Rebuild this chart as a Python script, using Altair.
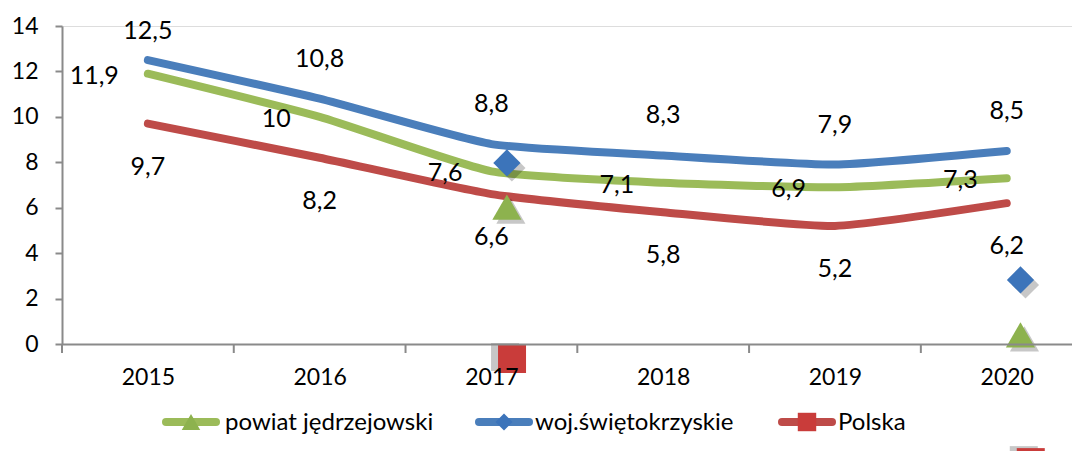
import altair as alt
import pandas as pd

years = [2015, 2016, 2017, 2018, 2019, 2020]
series_names = ["powiat jędrzejowski", "woj.świętokrzyskie", "Polska"]
powiat = [11.9, 10.0, 7.6, 7.1, 6.9, 7.3]
woj = [12.5, 10.8, 8.8, 8.3, 7.9, 8.5]
polska = [9.7, 8.2, 6.6, 5.8, 5.2, 6.2]

# stray marker artefacts visible in the reference picture
stray_x = [2017.09, 2017.09, 2017.12, 2020.08, 2020.08, 2020.14]
stray_y = [7.97, 6.03, -0.66, 2.82, 0.40, -5.2]
stray_series = ["woj.świętokrzyskie", "powiat jędrzejowski", "Polska",
                "woj.świętokrzyskie", "powiat jędrzejowski", "Polska"]

x_boundaries = [2014.5, 2015.5, 2016.5, 2017.5, 2018.5, 2019.5]
y_ticks = [0, 2, 4, 6, 8, 10, 12, 14]

colors = ["#9BBB59", "#4A7EBB", "#BE4B48"]
marker_colors = {"powiat jędrzejowski": "#8DB24E", "woj.świętokrzyskie": "#3C74BA", "Polska": "#C93C3A"}
marker_shapes = {"powiat jędrzejowski": "triangle-up", "woj.świętokrzyskie": "diamond", "Polska": "square"}
marker_sizes = {"powiat jędrzejowski": 850, "woj.świętokrzyskie": 740, "Polska": 784}
legend_marker_sizes = {"powiat jędrzejowski": 340, "woj.świętokrzyskie": 290, "Polska": 340}
shadow_off = {"powiat jędrzejowski": (4, 4), "woj.świętokrzyskie": (5, 5), "Polska": (-7, -2)}

# legend layout (pixels inside the plot area): symbol centre and text start per entry
legend_sym_x = [129, 442, 745]
legend_txt_x = [163, 473, 776]
LEG_Y = 396

rows = []
for name, vals in zip(series_names, [powiat, woj, polska]):
    for yr, v in zip(years, vals):
        rows.append({"year": yr, "v": v, "series": name,
                     "label": f"{v:g}".replace(".", ",")})
df = pd.DataFrame(rows)
stray = pd.DataFrame({"sx": stray_x, "sy": stray_y, "series": stray_series})
bounds = pd.DataFrame({"b": x_boundaries})

FONT = "Lato"
GRAY = "#8A8A8A"
x_scale = alt.Scale(domain=[2014.5, 2020.38], nice=False, zero=False)
y_scale = alt.Scale(domain=[0, 14], nice=False, zero=False)
x_axis = alt.Axis(values=years, format="d", ticks=False, tickSize=0, grid=False,
                  labelFontSize=23, labelPadding=22, domainColor=GRAY, domainWidth=2,
                  title=None, labelFont=FONT, labelColor="black", labelFlush=False, zindex=1)
y_axis = alt.Axis(values=y_ticks, grid=False, tickSize=7, tickColor=GRAY, tickWidth=2,
                  domainColor=GRAY, domainWidth=2, labelFontSize=23, labelPadding=17,
                  title=None, labelFont=FONT, labelColor="black")


def X(f):
    return alt.X(f, type="quantitative", scale=x_scale, axis=x_axis)


def Y(f):
    return alt.Y(f, type="quantitative", scale=y_scale, axis=y_axis)


base = alt.Chart(df)

lines = base.mark_line(strokeWidth=8, strokeCap="round", interpolate="cardinal", tension=0.5).encode(
    x=X("year"), y=Y("v"),
    color=alt.Color("series:N", scale=alt.Scale(domain=series_names, range=colors), legend=None),
)

ticks = alt.Chart(bounds).mark_rule(color=GRAY, strokeWidth=2).encode(
    x=X("b"), y=alt.value(318), y2=alt.value(327))

stray_layers = []
for s in series_names:
    dx, dy = shadow_off[s]
    sub = alt.Chart(stray).transform_filter(alt.datum.series == s)
    stray_layers.append(sub.mark_point(filled=True, shape=marker_shapes[s], size=marker_sizes[s],
                                       color="#000000", opacity=0.22, xOffset=dx, yOffset=dy)
                        .encode(x=X("sx"), y=Y("sy")))
    stray_layers.append(sub.mark_point(filled=True, shape=marker_shapes[s], size=marker_sizes[s],
                                       color=marker_colors[s], opacity=1)
                        .encode(x=X("sx"), y=Y("sy")))

LBL = 25
lbl_green = base.transform_filter(alt.datum.series == series_names[0]).mark_text(
    align="right", baseline="middle", dx=-29, dy=2, fontSize=LBL, font=FONT, color="black"
).encode(x=X("year"), y=Y("v"), text="label:N")
lbl_blue = base.transform_filter(alt.datum.series == series_names[1]).transform_calculate(
    ly="min(datum.v, 12)"
).mark_text(align="center", baseline="middle", dy=-40, fontSize=LBL, font=FONT, color="black"
            ).encode(x=X("year"), y=Y("ly"), text="label:N")
lbl_red = base.transform_filter(alt.datum.series == series_names[2]).mark_text(
    align="center", baseline="middle", dy=43, fontSize=LBL, font=FONT, color="black"
).encode(x=X("year"), y=Y("v"), text="label:N")

# legend: line swatch with marker, then the series name
legend_layers = []
for s, col, sx, tx in zip(series_names, colors, legend_sym_x, legend_txt_x):
    one = alt.Chart(pd.DataFrame({"series": [s]}))
    legend_layers.append(one.mark_rule(color=col, strokeWidth=8, strokeCap="round").encode(
        x=alt.value(sx - 25), x2=alt.value(sx + 25), y=alt.value(LEG_Y)))
    legend_layers.append(one.mark_point(filled=True, shape=marker_shapes[s], opacity=1,
                                        size=legend_marker_sizes[s], color=marker_colors[s]).encode(
        x=alt.value(sx), y=alt.value(LEG_Y)))
    legend_layers.append(one.mark_text(align="left", baseline="middle", fontSize=24, font=FONT,
                                       color="black").encode(
        x=alt.value(tx), y=alt.value(LEG_Y + 1), text="series:N"))

chart = alt.layer(lines, ticks, *stray_layers, lbl_green, lbl_blue, lbl_red, *legend_layers).properties(
    width=1010, height=318,
    padding={"left": 54, "top": 18, "right": 0, "bottom": 107},
    autosize=alt.AutoSizeParams(type="none"),
).configure_view(stroke=None).configure(font=FONT)

chart.save("out.html", embed_options={"renderer": "svg", "actions": False})
